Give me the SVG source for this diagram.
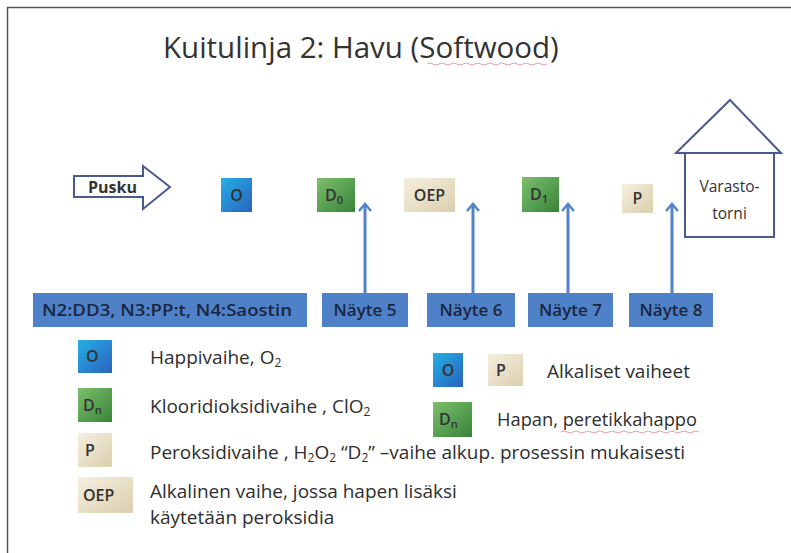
<svg xmlns="http://www.w3.org/2000/svg" width="791" height="553" viewBox="0 0 791 553">
<style>
  text { font-family: "Open Sans", "Noto Sans", "Liberation Sans", sans-serif; fill: #333; }
  .title { font-size: 29.5px; fill: #333; }
  .lbl { font-size: 19px; fill: #2e2e2e; }
  .box { font-size: 16px; font-weight: 600; }
  .sub { font-size: 11px; }
  .lsub { font-size: 12px; }
  .blue { fill: #4f81c8; }
  .bt { font-size: 17px; font-weight: 600; fill: #1b2640; }
  .conn { stroke: #5283c9; stroke-width: 3; fill: none; }
  .outline { fill: #fff; stroke: #4a5a8e; stroke-width: 2; }
  .sq { fill: none; stroke: #e6a0a8; stroke-width: 1; }
</style>
<defs>
  <linearGradient id="gO" x1="0" y1="0" x2="1" y2="1">
    <stop offset="0" stop-color="#25b0e6"/>
    <stop offset="1" stop-color="#2a62bd"/>
  </linearGradient>
  <linearGradient id="gD" x1="0" y1="0" x2="1" y2="1">
    <stop offset="0" stop-color="#7dbf6c"/>
    <stop offset="1" stop-color="#37843a"/>
  </linearGradient>
  <linearGradient id="gP" x1="0" y1="0" x2="1" y2="1">
    <stop offset="0" stop-color="#f5efe0"/>
    <stop offset="1" stop-color="#dccfae"/>
  </linearGradient>
  <marker id="ah" viewBox="0 0 12 14" refX="10" refY="7" markerWidth="12" markerHeight="14" markerUnits="userSpaceOnUse" orient="auto">
    <path d="M3,1 L10,7 L3,13" fill="none" stroke="#5283c9" stroke-width="2.5"/>
  </marker>
</defs>
<rect x="0" y="0" width="791" height="553" fill="#fff"/>
<path d="M7.5,553 L7.5,7.5 L791,7.5" fill="none" stroke="#555" stroke-width="1.5"/>

<text class="title" x="163" y="58">Kuitulinja 2: Havu (Softwood)</text>
<path class="sq" d="M427,64 q3,-2 6,0 t6,0 t6,0 t6,0 t6,0 t6,0 t6,0 t6,0 t6,0 t6,0 t6,0 t6,0 t6,0 t6,0 t6,0 t6,0 t6,0 t6,0 t6,0 t6,0"/>

<g id="pusku">
  <path class="outline" d="M74,176 L143,176 L143,166 L170,187 L143,209 L143,197 L74,197 Z"/>
  <text x="88" y="193" style="font-size:16px;font-weight:bold;fill:#333">Pusku</text>
</g>

<g id="stage-O">
  <rect x="221" y="178" width="31" height="34" fill="url(#gO)"/>
  <text class="box" x="236.5" y="201" text-anchor="middle">O</text>
</g>
<g id="stage-D0">
  <rect x="317" y="178" width="38" height="34" fill="url(#gD)"/>
  <text class="box" x="325" y="201">D<tspan class="sub" dy="3">0</tspan></text>
</g>
<g id="stage-OEP">
  <rect x="404" y="178" width="51" height="34" fill="url(#gP)"/>
  <text class="box" x="429.5" y="201" text-anchor="middle">OEP</text>
</g>
<g id="stage-D1">
  <rect x="522" y="177" width="37" height="35" fill="url(#gD)"/>
  <text class="box" x="530" y="200">D<tspan class="sub" dy="3">1</tspan></text>
</g>
<g id="stage-P">
  <rect x="622" y="184" width="31" height="29" fill="url(#gP)"/>
  <text class="box" x="637.5" y="204" text-anchor="middle">P</text>
</g>

<g id="varastotorni">
  <path class="outline" d="M676,153 L730,100 L781,153 Z"/>
  <rect class="outline" x="685" y="153" width="89" height="84"/>
  <text x="729.5" y="192" text-anchor="middle" style="font-size:15.5px">Varasto-</text>
  <text x="729.5" y="219" text-anchor="middle" style="font-size:15.5px">torni</text>
</g>

<g id="connectors">
  <line class="conn" x1="365" y1="293" x2="365" y2="204" marker-end="url(#ah)"/>
  <line class="conn" x1="473" y1="293" x2="473" y2="204" marker-end="url(#ah)"/>
  <line class="conn" x1="568" y1="293" x2="568" y2="204" marker-end="url(#ah)"/>
  <line class="conn" x1="672" y1="293" x2="672" y2="204" marker-end="url(#ah)"/>
</g>

<g id="n-row">
  <rect class="blue" x="33" y="293" width="274" height="34"/>
  <text class="bt" x="167" y="316" text-anchor="middle" textLength="250" lengthAdjust="spacingAndGlyphs">N2:DD3, N3:PP:t, N4:Saostin</text>
</g>
<g id="nayte5">
  <rect class="blue" x="322" y="293" width="86" height="34"/>
  <text class="bt" x="365" y="316" text-anchor="middle">Näyte 5</text>
</g>
<g id="nayte6">
  <rect class="blue" x="427" y="293" width="88" height="34"/>
  <text class="bt" x="471" y="316" text-anchor="middle">Näyte 6</text>
</g>
<g id="nayte7">
  <rect class="blue" x="528" y="293" width="85" height="34"/>
  <text class="bt" x="570.5" y="316" text-anchor="middle">Näyte 7</text>
</g>
<g id="nayte8">
  <rect class="blue" x="629" y="293" width="84" height="34"/>
  <text class="bt" x="671" y="316" text-anchor="middle">Näyte 8</text>
</g>

<g id="legend-O">
  <rect x="78" y="340" width="34" height="33" fill="url(#gO)"/>
  <text class="box" x="86" y="362">O</text>
  <text class="lbl" x="150" y="364">Happivaihe, O<tspan class="lsub" dy="3">2</tspan></text>
</g>
<g id="legend-D">
  <rect x="78" y="388" width="34" height="34" fill="url(#gD)"/>
  <text class="box" x="83" y="411">D<tspan class="sub" dy="3">n</tspan></text>
  <text class="lbl" x="150" y="413">Klooridioksidivaihe , ClO<tspan class="lsub" dy="3">2</tspan></text>
</g>
<g id="legend-P">
  <rect x="78" y="433" width="34" height="34" fill="url(#gP)"/>
  <text class="box" x="85" y="456">P</text>
  <text class="lbl" x="150" y="459">Peroksidivaihe , H<tspan class="lsub" dy="3">2</tspan><tspan dy="-3">O</tspan><tspan class="lsub" dy="3">2</tspan><tspan dy="-3"> “D</tspan><tspan class="lsub" dy="3">2</tspan><tspan dy="-3">” –vaihe alkup. prosessin mukaisesti</tspan></text>
</g>
<g id="legend-OEP">
  <rect x="78" y="477" width="55" height="36" fill="url(#gP)"/>
  <text class="box" x="83" y="501">OEP</text>
  <text class="lbl" x="150" y="498">Alkalinen vaihe, jossa hapen lisäksi</text>
  <text class="lbl" x="150" y="524">käytetään peroksidia</text>
</g>

<g id="legend-alk">
  <rect x="433" y="353" width="30" height="34" fill="url(#gO)"/>
  <text class="box" x="448" y="376" text-anchor="middle">O</text>
  <rect x="488" y="354" width="35" height="32" fill="url(#gP)"/>
  <text class="box" x="496" y="376">P</text>
  <text class="lbl" x="547" y="378">Alkaliset vaiheet</text>
</g>
<g id="legend-hap">
  <rect x="433" y="402" width="39" height="35" fill="url(#gD)"/>
  <text class="box" x="439" y="425">D<tspan class="sub" dy="3">n</tspan></text>
  <text class="lbl" x="497" y="426" textLength="200" lengthAdjust="spacingAndGlyphs">Hapan, peretikkahappo</text>
  <path class="sq" d="M561,432 q3,-2 6,0 t6,0 t6,0 t6,0 t6,0 t6,0 t6,0 t6,0 t6,0 t6,0 t6,0 t6,0 t6,0 t6,0 t6,0 t6,0 t6,0 t6,0 t6,0 t6,0 t6,0 t6,0 t6,0"/>
</g>
</svg>
